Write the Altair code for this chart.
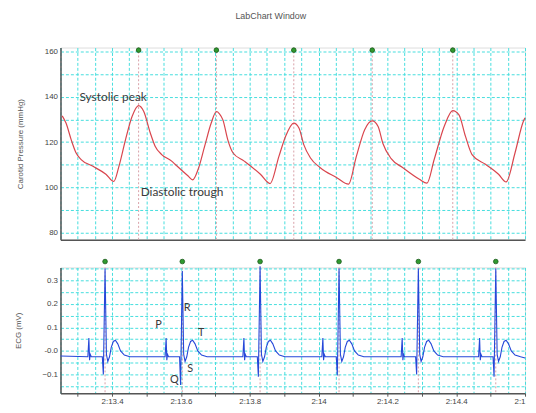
import altair as alt
import pandas as pd

CHART_TITLE = "LabChart Window"
PRESSURE_TITLE = "Carotid Pressure (mmHg)"
ECG_TITLE = "ECG (mV)"

# Carotid pressure trace: time (s) and pressure (mmHg)
p_time = [133.255, 133.266, 133.281, 133.295, 133.310, 133.343, 133.382, 133.405, 133.420, 133.439,
          133.458, 133.477, 133.492, 133.511, 133.525, 133.544, 133.573, 133.583, 133.621, 133.634,
          133.650, 133.669, 133.688, 133.703, 133.712, 133.722, 133.736, 133.751, 133.784, 133.831,
          133.859, 133.885, 133.904, 133.928, 133.943, 133.957, 133.976, 134.005, 134.053, 134.087,
          134.110, 134.134, 134.156, 134.173, 134.187, 134.211, 134.245, 134.293, 134.315, 134.336,
          134.365, 134.390, 134.408, 134.427, 134.446, 134.485, 134.523, 134.545, 134.571, 134.595,
          134.600]
p_val = [131.6, 128.4, 121.1, 115.3, 112.3, 109.4, 105.8, 102.6, 109.4, 121.1,
         131.3, 136.1, 133.5, 124.0, 118.2, 114.5, 111.6, 110.2, 105.0, 103.3,
         108.0, 118.2, 128.4, 133.5, 132.5, 129.8, 121.1, 115.3, 111.6, 105.8,
         101.7, 113.8, 122.5, 128.4, 126.2, 118.9, 113.1, 108.7, 104.3, 101.4,
         113.8, 125.5, 129.4, 126.9, 119.4, 112.7, 108.7, 103.6, 101.9, 112.3,
         126.9, 133.9, 132.0, 122.5, 114.5, 110.2, 105.8, 102.4, 115.3, 129.1,
         130.7]

# Systolic peak markers (s)
peak_times = [133.477, 133.703, 133.928, 134.156, 134.390]

# ECG: R-wave times (s), R amplitudes and Q depths (mV)
r_times = [133.3795, 133.604, 133.830, 134.0595, 134.290, 134.515]
r_vals = [0.35, 0.34, 0.36, 0.35, 0.35, 0.35]
q_vals = [-0.10, -0.145, -0.11, -0.105, -0.10, -0.11]

# One beat of the ECG relative to R (s) and its levels (mV); "Q"/"R" are per-beat
beat_offsets = [-0.050, -0.047, -0.045, -0.043, -0.040, -0.008, -0.005, 0.000, 0.004, 0.008,
                0.013, 0.018, 0.024, 0.030, 0.037, 0.045, 0.056, 0.072]
beat_values = [-0.025, 0.055, -0.040, -0.015, -0.025, -0.025, "Q", "R", -0.015, -0.045,
               -0.025, 0.015, 0.040, 0.045, 0.030, 0.000, -0.018, -0.025]
ecg_start = (133.25, -0.022)
ecg_end = (134.60, -0.030)

# Annotations
p_labels = ["Systolic peak", "Diastolic trough"]
p_label_t = [133.305, 133.483]
p_label_v = [139.9, 97.9]
e_labels = ["P", "R", "T", "S", "Q"]
e_label_t = [133.535, 133.618, 133.659, 133.627, 133.581]
e_label_v = [0.11, 0.182, 0.077, -0.079, -0.125]

x_ticks = [round(133.25 + 0.05 * i, 2) for i in range(28)]
p_ticks = [80, 90, 100, 110, 120, 130, 140, 150, 160]
e_ticks = [-0.15, -0.1, -0.05, 0.0, 0.05, 0.1, 0.15, 0.2, 0.25, 0.3, 0.35]

# ---- tables ----
pressure = pd.DataFrame({"t": p_time, "v": p_val})
peaks = pd.DataFrame({"t": peak_times, "v": [160.6] * len(peak_times)})
rows = [ecg_start]
for rt, rv, qv in zip(r_times, r_vals, q_vals):
    for off, val in zip(beat_offsets, beat_values):
        if val == "Q":
            val = qv
        elif val == "R":
            val = rv
        rows.append((rt + off, val))
rows.append(ecg_end)
ecg = pd.DataFrame(rows, columns=["t", "v"])
rpk = pd.DataFrame({"t": r_times, "v": [0.38] * len(r_times)})
p_lab = pd.DataFrame({"t": p_label_t, "v": p_label_v, "txt": p_labels})
e_lab = pd.DataFrame({"t": e_label_t, "v": e_label_v, "txt": e_labels})

GRID = "#45dede"
AX = "#555555"
LBL_FONT = "Liberation Sans"
xdom = [133.25, 134.60]
xscale = alt.Scale(domain=xdom, nice=False, zero=False)
pscale = alt.Scale(domain=[76.9, 161.75], nice=False, zero=False)
escale = alt.Scale(domain=[-0.18, 0.355], nice=False, zero=False)

common_axis = dict(gridColor=GRID, gridDash=[3, 2], gridWidth=1, gridOpacity=1,
                   domainColor=AX, domainWidth=1.5, labelFont=LBL_FONT, labelFontSize=8,
                   labelColor="#444444", titleFont=LBL_FONT, titleFontSize=8,
                   titleColor="#555555", titleFontWeight="normal")

x_top_axis = alt.Axis(values=x_ticks, labels=False, ticks=False, title=None, grid=True, **common_axis)
x_bot_axis = alt.Axis(
    values=x_ticks, grid=True, title=None, tickColor=AX, tickSize=3, labelPadding=1,
    tickOpacity={"condition": {"test": "abs(round(datum.value*100) % 10) == 0", "value": 1}, "value": 0},
    labelExpr="abs(round(datum.value*100) % 20) == 0 ? (datum.value > 134.55 ? '2:1' : '2:' + format(datum.value - 120, '.1~f')) : ''",
    **common_axis)
p_axis = alt.Axis(values=p_ticks, ticks=False, grid=True, title=PRESSURE_TITLE, titlePadding=20,
                  labelPadding=3,
                  labelExpr="datum.value % 20 == 0 ? datum.label : ''", **common_axis)
e_axis = alt.Axis(values=e_ticks, ticks=False, grid=True, title=ECG_TITLE, titlePadding=20,
                  labelPadding=3,
                  labelExpr="abs(round(datum.value*100) % 10) == 0 ? (round(datum.value*100) == 0 ? '-0.0' : format(datum.value, '.1f')) : ''",
                  **common_axis)

W = 469

# ---- top panel ----
tx = alt.X("t:Q", scale=xscale, axis=x_top_axis)
ty = alt.Y("v:Q", scale=pscale, axis=p_axis)
p_line = alt.Chart(pressure).mark_line(color="#d9454d", strokeWidth=1.2, interpolate="monotone").encode(
    x=tx, y=ty)
p_mark = alt.Chart(peaks).mark_rule(color="#d9a0a8", strokeDash=[2, 2], strokeWidth=1).encode(x=tx)
p_dots = alt.Chart(peaks).mark_point(filled=True, size=22, color="#2f9a2f", stroke="#185818",
                                     strokeWidth=0.8, opacity=1).encode(x=tx, y=ty)
p_text = alt.Chart(p_lab).mark_text(align="left", baseline="middle", font="Lato", fontSize=12,
                                    color="#3a3a3a").encode(x=tx, y=ty, text="txt:N")
top = alt.layer(p_mark, p_line, p_dots, p_text).properties(width=W, height=194)

# ---- bottom panel ----
bx = alt.X("t:Q", scale=xscale, axis=x_bot_axis)
by = alt.Y("v:Q", scale=escale, axis=e_axis)
e_line = alt.Chart(ecg).mark_line(color="#2547d9", strokeWidth=1.1).encode(x=bx, y=by)
e_mark = alt.Chart(rpk).mark_rule(color="#d9a0a8", strokeDash=[2, 2], strokeWidth=1).encode(x=bx)
e_dots = alt.Chart(rpk).mark_point(filled=True, size=22, color="#2f9a2f", stroke="#185818",
                                   strokeWidth=0.8, opacity=1).encode(x=bx, y=by)
e_text = alt.Chart(e_lab).mark_text(align="center", baseline="middle", font="Lato", fontSize=11,
                                    color="#3a3a3a").encode(x=bx, y=by, text="txt:N")
bottom = alt.layer(e_mark, e_line, e_dots, e_text).properties(width=W, height=127)

chart = alt.vconcat(top, bottom, spacing=16).properties(
    title=alt.TitleParams(CHART_TITLE, font=LBL_FONT, fontSize=9, color="#555555",
                          fontWeight="normal", anchor="middle", offset=25),
    padding={"left": 5, "top": 2, "right": 0, "bottom": 0},
).configure_view(strokeWidth=0).configure(background="white")

chart.save("out.html", embed_options={"renderer": "svg", "actions": False})
